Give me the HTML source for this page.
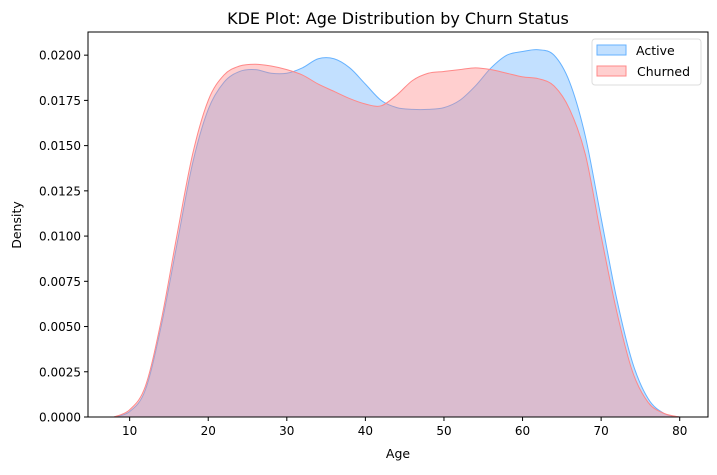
<!DOCTYPE html>
<html><head><meta charset="utf-8"><style>
body{margin:0;background:#fff;font-family:"Liberation Sans","DejaVu Sans",sans-serif}
</style></head><body>
<svg id="chart" width="717" height="470" xmlns="http://www.w3.org/2000/svg" font-family="DejaVu Sans, Liberation Sans, sans-serif">
<text x="398" y="24" text-anchor="middle" font-size="16">KDE Plot: Age Distribution by Churn Status</text>
<g id="plot"></g>
<g id="axes"></g>
<text x="398" y="458" text-anchor="middle" font-size="12.5">Age</text>
<text transform="translate(21,225) rotate(-90)" text-anchor="middle" font-size="12.5">Density</text>
<g>
<rect x="592" y="39" width="109" height="46" rx="3" fill="#fff" fill-opacity="0.8" stroke="#ddd"/>
<rect x="597" y="45" width="29" height="10" fill="#66b2ff" fill-opacity="0.4" stroke="#66b2ff"/>
<text x="636" y="55" font-size="12.5">Active</text>
<rect x="597" y="66" width="29" height="10" fill="#ff8888" fill-opacity="0.4" stroke="#ff8888"/>
<text x="637" y="76" font-size="12.5">Churned</text>
</g>
</svg>
<script>
const ages = [8,10,12,14,16,18,20,22,24,26,28,30,32,34,36,38,40,42,44,46,48,50,52,54,56,58,60,62,64,66,68,70,72,74,76,78,80];
const activeDensity = [0,0.0003,0.0015,0.005,0.0095,0.014,0.017,0.0185,0.0191,0.0192,0.019,0.019,0.0193,0.0198,0.0198,0.0193,0.0184,0.0175,0.0171,0.017,0.017,0.0171,0.0175,0.0183,0.0193,0.02,0.0202,0.0203,0.02,0.0185,0.0155,0.011,0.0065,0.003,0.001,0.0002,0];
const churnedDensity = [0,0.0004,0.0017,0.0053,0.01,0.0145,0.0175,0.0189,0.0194,0.0195,0.0194,0.0192,0.0189,0.0184,0.018,0.0176,0.0173,0.0172,0.0178,0.0186,0.019,0.0191,0.0192,0.0193,0.0192,0.019,0.0188,0.0187,0.0183,0.017,0.0145,0.01,0.0058,0.0025,0.0008,0.0002,0];
const xTicks = [10,20,30,40,50,60,70,80];
const yTicks = [0,0.0025,0.005,0.0075,0.01,0.0125,0.015,0.0175,0.02];
const L=88,R=708,T=32,B=417, xMin=4.7, xMax=83.6, yMax=0.02128;
const xs=v=>L+(v-xMin)/(xMax-xMin)*(R-L);
const ys=v=>B-v/yMax*(B-T);
const NS='http://www.w3.org/2000/svg';
function path(vals){
  const p=ages.map((a,i)=>[xs(a),ys(vals[i])]);
  let d='M'+p[0][0]+','+p[0][1];
  for(let i=0;i<p.length-1;i++){
    const p0=p[Math.max(0,i-1)],p1=p[i],p2=p[i+1],p3=p[Math.min(p.length-1,i+2)];
    d+=' C'+(p1[0]+(p2[0]-p0[0])/6)+','+(p1[1]+(p2[1]-p0[1])/6)+' '+(p2[0]-(p3[0]-p1[0])/6)+','+(p2[1]-(p3[1]-p1[1])/6)+' '+p2[0]+','+p2[1];
  }
  return d;
}
const plot=document.getElementById('plot');
[[activeDensity,'#66b2ff','series-active'],[churnedDensity,'#ff8888','series-churned']].forEach(([vals,c,n])=>{
  const d=path(vals);
  const f=document.createElementNS(NS,'path');
  f.setAttribute('d',d+' L'+xs(ages[ages.length-1])+','+B+' L'+xs(ages[0])+','+B+' Z');
  f.setAttribute('fill',c);f.setAttribute('fill-opacity','0.4');
  
  
  plot.appendChild(f);
  const l=document.createElementNS(NS,'path');
  l.setAttribute('d',d);l.setAttribute('fill','none');l.setAttribute('stroke',c);l.setAttribute('stroke-width','1');
  
  
  plot.appendChild(l);
});
const ax=document.getElementById('axes');
let h='<rect x="'+L+'" y="'+T+'" width="'+(R-L)+'" height="'+(B-T)+'" fill="none" stroke="#000" stroke-width="1"/>';
xTicks.forEach(t=>{const x=xs(t);h+='<line x1="'+x+'" x2="'+x+'" y1="'+B+'" y2="'+(B+4)+'" stroke="#000"/><text x="'+x+'" y="'+(B+18)+'" text-anchor="middle" font-size="12">'+t+'</text>';});
yTicks.forEach(t=>{const y=ys(t);h+='<line x1="'+(L-4)+'" x2="'+L+'" y1="'+y+'" y2="'+y+'" stroke="#000"/><text x="'+(L-7)+'" y="'+(y+4.5)+'" text-anchor="end" font-size="12">'+t.toFixed(4)+'</text>';});
ax.innerHTML=h;


</script>
</body></html>
